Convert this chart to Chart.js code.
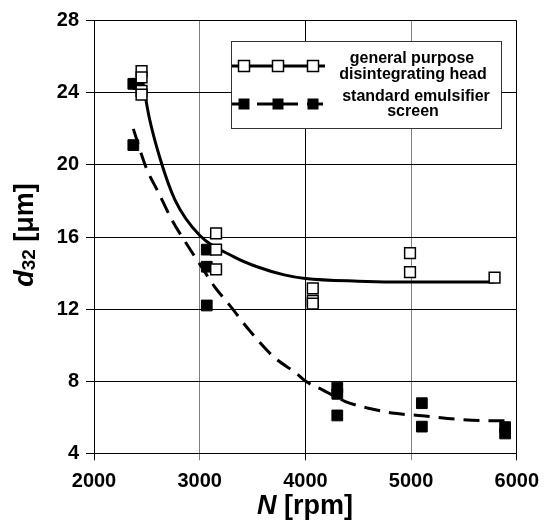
<!DOCTYPE html>
<html>
<head>
<meta charset="utf-8">
<script src="https://cdn.jsdelivr.net/npm/chart.js@4.4.0/dist/chart.umd.min.js"></script>
<style>
    html, body { margin: 0; padding: 0; background: #fff; }
    #wrap { width: 548px; height: 524px; position: relative; }
</style>
</head>
<body>
<div id="wrap"><canvas id="dropChart"></canvas></div>
<script>
// axis ranges / ticks
const xTicks = [2000, 3000, 4000, 5000, 6000];
const yTicks = [4, 8, 12, 16, 20, 24, 28];

// general purpose disintegrating head (open squares)
const headN = [2450, 2450, 2450, 2450, 3155, 3155, 3155, 4070, 4070, 4070, 4990, 4990, 5790];
const headD = [25.2, 24.85, 24.1, 23.9, 16.2, 15.3, 14.2, 13.15, 12.45, 12.3, 15.1, 14.05, 13.75];

// standard emulsifier screen (filled squares)
const screenN = [2372, 2410, 2372, 3067, 3067, 3067, 4302, 4302, 4302, 5102, 5102, 5890, 5890];
const screenD = [24.5, 24.5, 21.1, 15.3, 14.35, 12.2, 7.65, 7.3, 6.1, 6.78, 5.48, 5.45, 5.1];

// trend curves
const headFitN = [2455, 2520, 2628, 2767, 2999, 3324, 3543, 3800, 4000, 4500, 5000, 5790];
const headFitD = [24.85, 22.7, 20.3, 18.05, 16.1, 14.9, 14.35, 13.9, 13.7, 13.55, 13.5, 13.5];

const screenFitN = [2372, 2490, 2613, 2737, 2892, 3016, 3140, 3294, 3466, 3698, 3914, 4007, 4162, 4379, 4596, 4844, 5107, 5432, 5680, 5894];
const screenFitD = [22.0, 19.9, 18.43, 16.95, 15.47, 14.36, 13.25, 12.14, 10.85, 9.36, 8.44, 7.98, 7.52, 6.87, 6.5, 6.22, 6.08, 5.89, 5.81, 5.8];

const legendLabels = [
    ['general purpose', 'disintegrating head'],
    ['standard emulsifier', 'screen']
];

const FONT = "Arial, 'Liberation Sans', sans-serif";
const DASH = [16, 9];

function toPoints(xs, ys) {
    return xs.map((x, i) => ({ x: x, y: ys[i] }));
}

function drawSquare(ctx, x, y, filled) {
    const s = 11;
    ctx.fillStyle = filled ? '#000' : '#fff';
    ctx.fillRect(x - s / 2, y - s / 2, s, s);
    if (!filled) {
        ctx.strokeStyle = '#000';
        ctx.lineWidth = 1.5;
        ctx.strokeRect(x - s / 2, y - s / 2, s, s);
    }
}

// legend box + axis titles (subscript / italic need manual drawing)
const extrasPlugin = {
    id: 'extras',
    afterDraw(chart) {
        const ctx = chart.ctx;
        ctx.save();

        // legend
        ctx.fillStyle = '#fff';
        ctx.fillRect(232, 42, 270, 86);
        ctx.strokeStyle = '#333';
        ctx.lineWidth = 1;
        ctx.strokeRect(231.5, 41.5, 270, 87);

        const rows = [66, 104];
        const markX = [244, 278, 313];
        rows.forEach((ry, r) => {
            ctx.strokeStyle = '#000';
            ctx.lineWidth = 3;
            ctx.setLineDash(r === 1 ? DASH : []);
            ctx.beginPath();
            ctx.moveTo(232, ry);
            ctx.lineTo(325, ry);
            ctx.stroke();
            ctx.setLineDash([]);
            markX.forEach(mx => drawSquare(ctx, mx, ry, r === 1));
        });

        ctx.fillStyle = '#000';
        ctx.font = 'bold 16px ' + FONT;
        ctx.textAlign = 'center';
        ctx.textBaseline = 'middle';
        ctx.fillText(legendLabels[0][0], 412, 59);
        ctx.fillText(legendLabels[0][1], 413, 74.5);
        ctx.fillText(legendLabels[1][0], 416, 97);
        ctx.fillText(legendLabels[1][1], 413, 112);

        // x title: N [rpm]
        ctx.textAlign = 'left';
        ctx.textBaseline = 'alphabetic';
        const fN = 'italic bold 27px ' + FONT;
        const fR = 'bold 27px ' + FONT;
        ctx.font = fN;
        const wN = ctx.measureText('N').width;
        ctx.font = fR;
        const wR = ctx.measureText(' [rpm]').width;
        let x0 = 305 - (wN + wR) / 2;
        ctx.font = fN;
        ctx.fillText('N', x0, 514);
        ctx.font = fR;
        ctx.fillText(' [rpm]', x0 + wN, 514);

        // y title: d32 [μm]
        ctx.translate(33, 235);
        ctx.rotate(-Math.PI / 2);
        const fd = 'italic bold 27px ' + FONT;
        const fs = 'bold 19px ' + FONT;
        ctx.font = fd;
        const wd = ctx.measureText('d').width;
        ctx.font = fs;
        const ws = ctx.measureText('32').width;
        ctx.font = fR;
        const wu = ctx.measureText(' [\u03bcm]').width;
        let p = -(wd + ws + wu) / 2;
        ctx.font = fd;
        ctx.fillText('d', p, 0);
        ctx.font = fs;
        ctx.fillText('32', p + wd, 2);
        ctx.font = fR;
        ctx.fillText(' [\u03bcm]', p + wd + ws, 0);

        ctx.restore();
    }
};

const ctx = document.getElementById('dropChart').getContext('2d');
new Chart(ctx, {
    type: 'scatter',
    data: {
        datasets: [{
            label: 'general purpose disintegrating head',
            data: toPoints(headN, headD),
            pointStyle: 'rect',
            pointRadius: 7.6,
            backgroundColor: '#fff',
            borderColor: '#000',
            borderWidth: 1.5,
            order: 1
        }, {
            label: 'standard emulsifier screen',
            data: toPoints(screenN, screenD),
            pointStyle: 'rect',
            pointRadius: 7.6,
            backgroundColor: '#000',
            borderColor: '#000',
            borderWidth: 1,
            order: 1
        }, {
            label: 'head fit',
            data: toPoints(headFitN, headFitD),
            showLine: true,
            pointRadius: 0,
            borderColor: '#000',
            borderWidth: 3,
            cubicInterpolationMode: 'monotone',
            order: 2
        }, {
            label: 'screen fit',
            data: toPoints(screenFitN, screenFitD),
            showLine: true,
            pointRadius: 0,
            borderColor: '#000',
            borderWidth: 3,
            borderDash: DASH,
            cubicInterpolationMode: 'monotone',
            order: 2
        }]
    },
    options: {
        responsive: true,
        maintainAspectRatio: false,
        animation: false,
        layout: { padding: { top: 20.7, right: 23.7, left: 0, bottom: 0 } },
        plugins: {
            legend: { display: false },
            tooltip: { enabled: false }
        },
        scales: {
            x: {
                type: 'linear',
                min: xTicks[0],
                max: xTicks[xTicks.length - 1],
                afterBuildTicks: scale => { scale.ticks = xTicks.map(v => ({ value: v })); },
                afterFit: scale => { scale.height = 70.7; },
                ticks: {
                    color: '#000',
                    padding: 9,
                    font: { family: FONT, size: 20, weight: 'bold' },
                    callback: v => String(v)
                },
                grid: {
                    color: c => (c.tick && (c.tick.value === 3000 || c.tick.value === 5000)) ? '#808080' : '#000',
                    lineWidth: 1,
                    tickLength: 7
                },
                border: { color: '#000', width: 1 }
            },
            y: {
                type: 'linear',
                min: yTicks[0],
                max: yTicks[yTicks.length - 1],
                afterBuildTicks: scale => { scale.ticks = yTicks.map(v => ({ value: v })); },
                afterFit: scale => { scale.width = 94; },
                ticks: {
                    color: '#000',
                    padding: 7,
                    font: { family: FONT, size: 20, weight: 'bold' },
                    callback: v => String(v)
                },
                grid: {
                    color: '#000',
                    lineWidth: 1,
                    tickLength: 8
                },
                border: { color: '#000', width: 1 }
            }
        }
    },
    plugins: [extrasPlugin]
});
</script>
</body>
</html>
